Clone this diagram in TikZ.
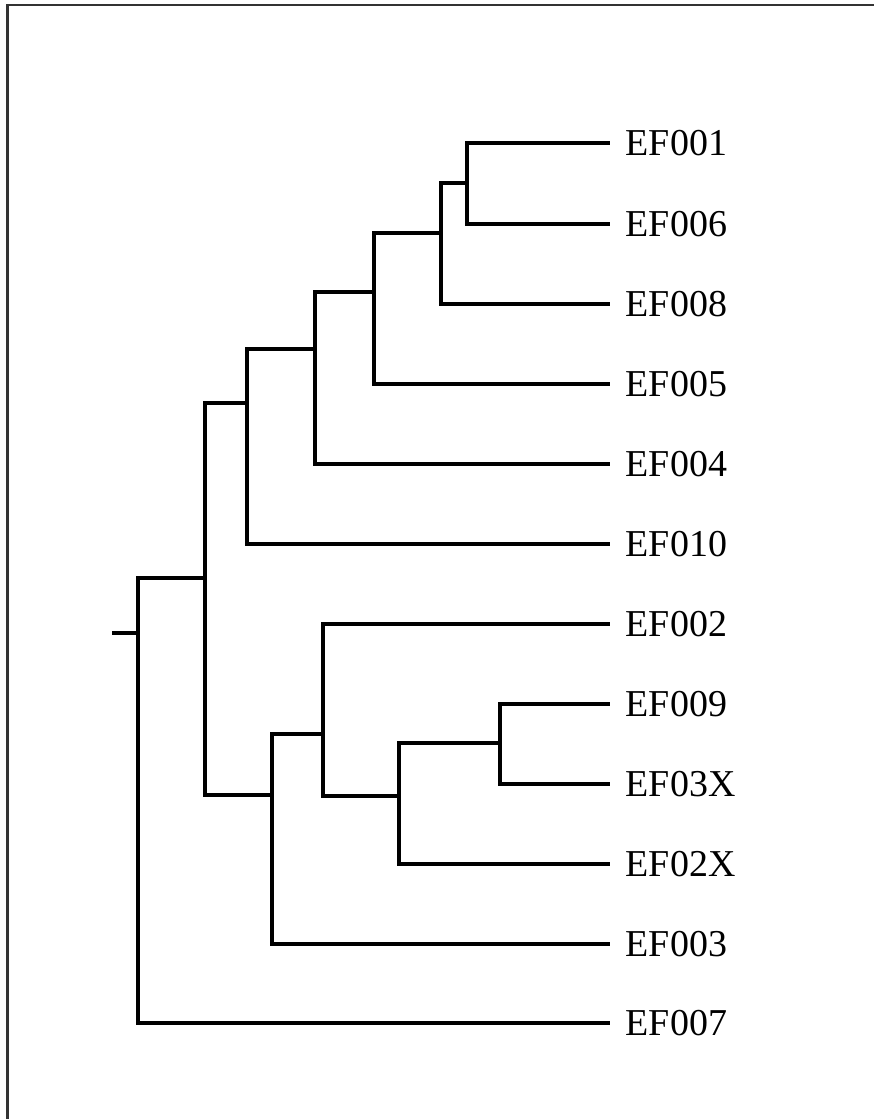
\documentclass[tikz,border=0pt]{standalone}
\usepackage{fontspec}
\setmainfont{Liberation Serif}
\begin{document}
\begin{tikzpicture}[x=0.01cm,y=-0.01cm]
		\tikzset{leaf/.style = {anchor=west,inner xsep=0.15cm,inner ysep=0pt,font=\fontsize{10.8}{13}\selectfont}}
		\tikzset{branch/.style = {draw,line width=0.042cm,to path={|- (\tikztotarget)}}}
		\useasboundingbox (0,0) rectangle (874,1119);
		\draw[line width=0.02cm,black!80] (874,5.5) -- (7.5,5.5) -- (7.5,1119);
		% leaves
		\node[leaf] (ef001) at (610,143) {EF001};
		\node[leaf] (ef006) at (610,224) {EF006};
		\node[leaf] (ef008) at (610,304) {EF008};
		\node[leaf] (ef005) at (610,384) {EF005};
		\node[leaf] (ef004) at (610,464) {EF004};
		\node[leaf] (ef010) at (610,544) {EF010};
		\node[leaf] (ef002) at (610,624) {EF002};
		\node[leaf] (ef009) at (610,704) {EF009};
		\node[leaf] (ef03x) at (610,784) {EF03X};
		\node[leaf] (ef02x) at (610,864) {EF02X};
		\node[leaf] (ef003) at (610,944) {EF003};
		\node[leaf] (ef007) at (610,1023) {EF007};
		% inner nodes
		\coordinate (r0) at (112,633);
		\coordinate (r) at (138,633);
		\coordinate (n1) at (467,183);
		\coordinate (n2) at (441,233);
		\coordinate (n3) at (374,292);
		\coordinate (n4) at (315,349);
		\coordinate (n5) at (247,403);
		\coordinate (n6) at (205,578);
		\coordinate (n7) at (272,795);
		\coordinate (n8) at (323,734);
		\coordinate (n9) at (399,796);
		\coordinate (n10) at (500,743);
		\draw[line width=0.042cm] (r0) -- (r);
		\path (r) edge[branch] (n6) edge[branch] (ef007.west);
		\path (n6) edge[branch] (n5) edge[branch] (n7);
		\path (n5) edge[branch] (n4) edge[branch] (ef010.west);
		\path (n4) edge[branch] (n3) edge[branch] (ef004.west);
		\path (n3) edge[branch] (n2) edge[branch] (ef005.west);
		\path (n2) edge[branch] (n1) edge[branch] (ef008.west);
		\path (n1) edge[branch] (ef001.west) edge[branch] (ef006.west);
		\path (n7) edge[branch] (n8) edge[branch] (ef003.west);
		\path (n8) edge[branch] (ef002.west) edge[branch] (n9);
		\path (n9) edge[branch] (n10) edge[branch] (ef02x.west);
		\path (n10) edge[branch] (ef009.west) edge[branch] (ef03x.west);
\end{tikzpicture}
\end{document}
